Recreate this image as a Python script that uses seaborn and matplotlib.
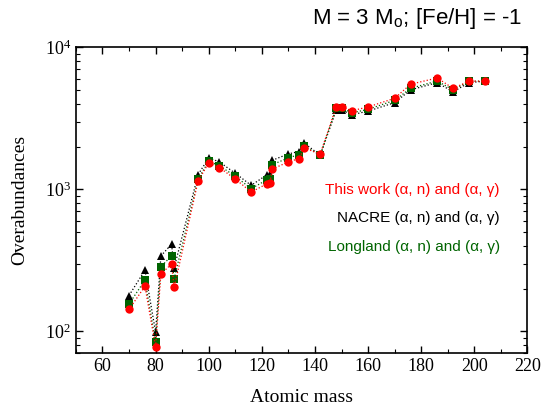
import matplotlib
matplotlib.use("Agg")
import matplotlib.pyplot as plt
import seaborn as sns
import numpy as np
import pandas as pd
from matplotlib.ticker import MultipleLocator, LogLocator, NullFormatter

# data
mass = [70, 76, 80, 82, 86, 87, 96, 100, 104, 110, 116, 122, 123, 124,
        130, 134, 136, 142, 148, 150, 154, 160, 170, 176, 186, 192, 198, 204]
this_work = [143, 208, 78, 254, 298, 204, 1145, 1535, 1423, 1183, 958, 1096, 1110, 1392,
             1560, 1648, 1949, 1776, 3800, 3800, 3580, 3800, 4375, 5495, 6080, 5140, 5770, 5770]
nacre = [179, 270, 99, 340, 411, 281, 1270, 1665, 1560, 1298, 1067, 1270, 1290, 1603,
         1776, 1846, 2113, 1738, 3614, 3614, 3350, 3556, 4075, 5015, 5640, 4853, 5640, 5770]
longland = [156, 230, 84, 286, 340, 235, 1183, 1577, 1470, 1236, 1011, 1170, 1185, 1494,
            1665, 1758, 2013, 1738, 3733, 3733, 3459, 3656, 4236, 5140, 5790, 5015, 5770, 5770]

labels = ["This work (α, n) and (α, γ)",
          "NACRE (α, n) and (α, γ)",
          "Longland (α, n) and (α, γ)"]
colors = ["#ff0000", "black", "#006400"]

sns.set_style("ticks")
plt.rcParams["mathtext.fontset"] = "stix"
plt.rcParams["font.family"] = ["Liberation Serif", "DejaVu Serif"]
for k in ["text.color", "axes.labelcolor", "xtick.color", "ytick.color", "axes.edgecolor"]:
    plt.rcParams[k] = "black"

fig = plt.figure(figsize=(5.5, 4.11), dpi=100)
ax = fig.add_axes([0.138, 0.140, 0.821, 0.745])

# black behind, then green, red on top
sns.lineplot(x=mass, y=nacre, color="black", marker="^", markersize=6,
             markeredgewidth=0, linestyle=":", linewidth=0.9, ax=ax, sort=False)
sns.lineplot(x=mass, y=longland, color="#006400", marker="s", markersize=5.5,
             markeredgewidth=0, linestyle=":", linewidth=0.9, ax=ax, sort=False)
sns.lineplot(x=mass, y=this_work, color="#ff0000", marker="o", markersize=6,
             markeredgewidth=0, linestyle=":", linewidth=0.9, ax=ax, sort=False)

ax.set_yscale("log")
ax.set_xlim(50, 220)
ax.set_ylim(70, 1e4)
ax.xaxis.set_major_locator(MultipleLocator(20))
ax.xaxis.set_minor_locator(MultipleLocator(10))
ax.yaxis.set_major_locator(LogLocator(base=10))
ax.yaxis.set_minor_locator(LogLocator(base=10, subs=np.arange(2, 10)))
ax.yaxis.set_minor_formatter(NullFormatter())
ax.tick_params(which="both", direction="in", top=True, right=True, labelsize=13)
ax.tick_params(which="major", length=5, width=1)
ax.tick_params(which="minor", length=3, width=0.8)
for s in ax.spines.values():
    s.set_linewidth(1.2)

ax.set_xlabel("Atomic mass", fontsize=14, labelpad=10)
ax.set_ylabel("Overabundances", fontsize=14, labelpad=12)

for i, (lab, c) in enumerate(zip(labels, colors)):
    ax.text(0.939, 0.534 - i * 0.093, lab, color=c, fontsize=11, ha="right", va="center",
            family=["Liberation Sans", "DejaVu Sans"], transform=ax.transAxes)

fig.text(0.949, 0.956, r"M = 3 M$_\mathregular{o}$; [Fe/H] = -1", fontsize=16,
         ha="right", va="center", family=["Liberation Sans", "DejaVu Sans"])

fig.savefig("out.png", dpi=100)
